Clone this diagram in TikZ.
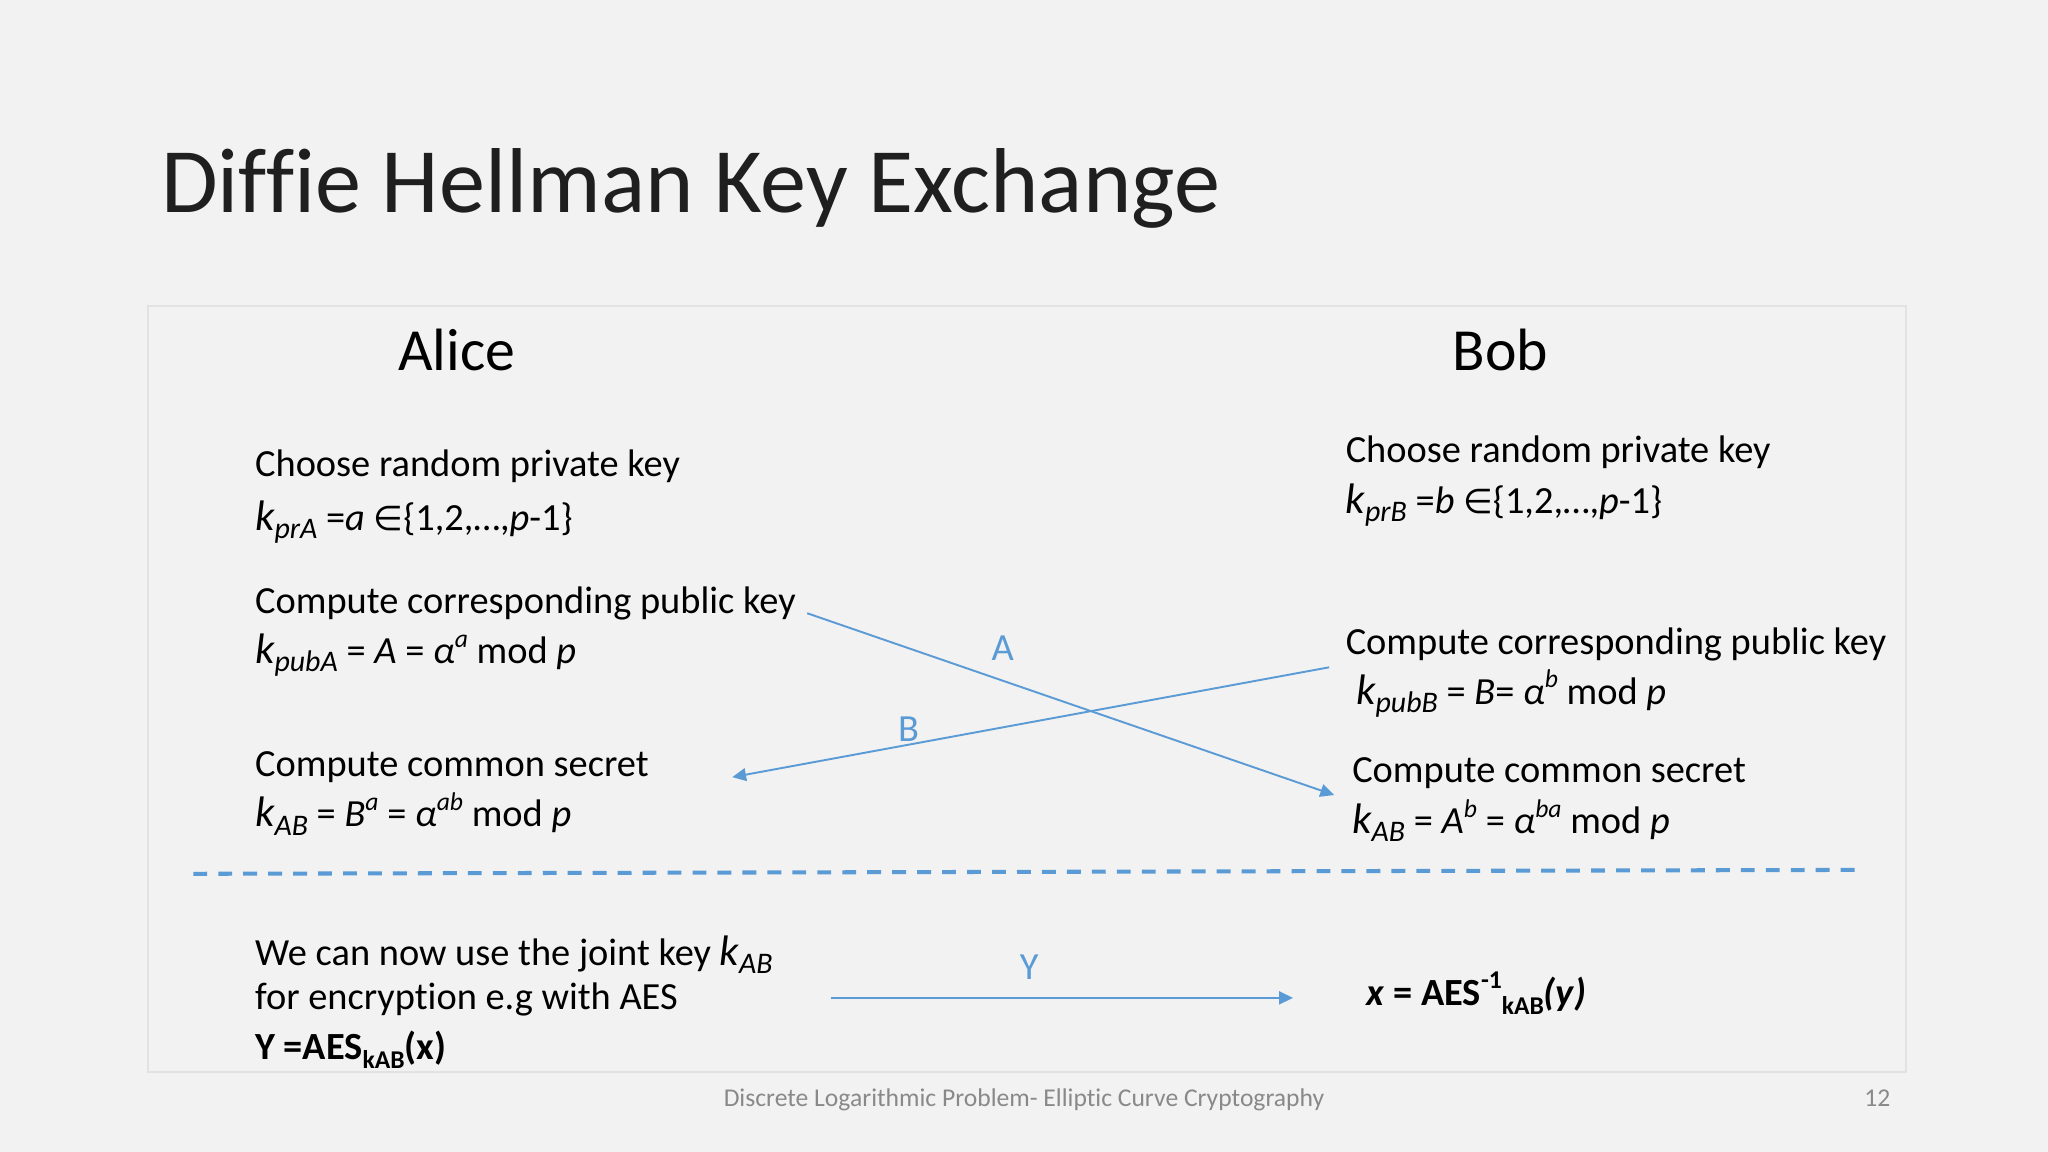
\documentclass[tikz,border=0pt]{standalone}
\usepackage{fontspec}
\setmainfont{Carlito}[Ligatures=NoCommon]
\newfontfamily\symf{DejaVu Sans}
\usetikzlibrary{arrows.meta}
\definecolor{bg}{HTML}{F2F2F2}
\definecolor{boxline}{HTML}{E2E2E2}
\definecolor{accent}{HTML}{5B9BD5}
\definecolor{footgray}{HTML}{898989}
\newcommand{\kk}[1]{{\fontsize{20}{24}\selectfont\itshape k}\raisebox{-0.22em}{\fontsize{14}{14}\selectfont\itshape #1}}
\newcommand{\su}[1]{\raisebox{0.42em}{\fontsize{12}{12}\selectfont #1}}
\newcommand{\lw}[1]{\raisebox{-0.25em}{\fontsize{12}{12}\selectfont #1}}
\newcommand{\elem}{{\symf\fontsize{16}{18}\selectfont ∈}}
\begin{document}
\begin{tikzpicture}[x=0.612245pt,y=-0.612245pt,
  txt/.style={anchor=base west,inner sep=0pt,font=\fontsize{18}{21}\selectfont},
  lbl/.style={anchor=base,inner sep=0pt,text=accent,font=\fontsize{18}{21}\selectfont},
  arr/.style={draw=accent,line width=0.9pt,-{Triangle[length=6.5pt,width=6pt]}}]
\fill[bg] (0,0) rectangle (1568,882);
\useasboundingbox (0,0) rectangle (1568,882);
\draw[boxline, line width=1pt] (113.6,234.3) rectangle (1459.5,820.6);
% title
\node[anchor=base west,inner sep=0pt,font=\fontsize{43.2}{52}\selectfont,text=black!88] (title) at (123,162.8) {Diffie Hellman Key Exchange};
% headers
\node[anchor=base west,inner sep=0pt,font=\fontsize{28}{34}\selectfont] (alice) at (304.7,284) {Alice};
\node[anchor=base west,inner sep=0pt,font=\fontsize{28}{34}\selectfont] (bob) at (1112,284) {Bob};
% Alice
\node[txt] (a1) at (195,365) {Choose random private key};
\node[txt] (a2) at (195,405.8) {\kk{prA} =\textit{a} \elem\{1,2,…,\textit{p}-1\}};
\node[txt] (a3) at (195,469.6) {Compute corresponding public key};
\node[txt] (a4) at (195,507.9) {\kk{pubA} = \textit{A} = \textit{α}\su{\textit{a}} mod \textit{p}};
\node[txt] (a5) at (195,594.7) {Compute common secret};
\node[txt] (a6) at (195,633) {\kk{AB} = \textit{B}\su{\textit{a}} = \textit{α}\su{\textit{ab}} mod \textit{p}};
% Bob
\node[txt] (b1) at (1030,354.3) {Choose random private key};
\node[txt] (b2) at (1030,393) {\kk{prB} =\textit{b} \elem\{1,2,…,\textit{p}-1\}};
\node[txt] (b3) at (1030,500.8) {Compute corresponding public key};
\node[txt] (b4) at (1038,539) {\kk{pubB} = \textit{B}= \textit{α}\su{\textit{b}} mod \textit{p}};
\node[txt] (b5) at (1035,599.3) {Compute common secret};
\node[txt] (b6) at (1035,637.9) {\kk{AB} = \textit{A}\su{\textit{b}} = \textit{α}\su{\textit{ba}} mod \textit{p}};
% exchange arrows
\coordinate (aS) at (618,469.5);
\coordinate (aE) at (1021.5,608.7);
\coordinate (bS) at (1017.6,510.9);
\coordinate (bE) at (560.6,595);
\draw[arr] (aS) -- (aE);
\draw[arr] (bS) -- (bE);
\node[lbl] (la) at (767.7,506) {A};
\node[lbl] (lb) at (695.6,567.4) {B};
% dashed separator
\coordinate (dL) at (148,669);
\coordinate (dR) at (1426,666);
\draw[accent,line width=1.9pt,dash pattern=on 6.5pt off 5.2pt] (dL) -- (dR);
% bottom
\node[txt] (c1) at (195,739) {We can now use the joint key \kk{AB}};
\node[txt] (c2) at (195,773) {for encryption e.g with AES};
\node[txt] (c3) at (195,811) {\textbf{Y =AES\lw{kAB}(x)}};
\node[txt] (d1) at (1046,769.5) {\textbf{\textit{x} = AES\su{-1}\lw{kAB}\textit{(y)}}};
\coordinate (yS) at (636,764);
\coordinate (yE) at (990,764);
\draw[arr] (yS) -- (yE);
\node[lbl] (ly) at (788,749.6) {Y};
% footer
\node[anchor=base,inner sep=0pt,font=\fontsize{12}{14}\selectfont,text=footgray] (foot) at (784,847) {Discrete Logarithmic Problem- Elliptic Curve Cryptography};
\node[anchor=base east,inner sep=0pt,font=\fontsize{12}{14}\selectfont,text=footgray] (pg) at (1447.6,847) {12};
\end{tikzpicture}
\end{document}
